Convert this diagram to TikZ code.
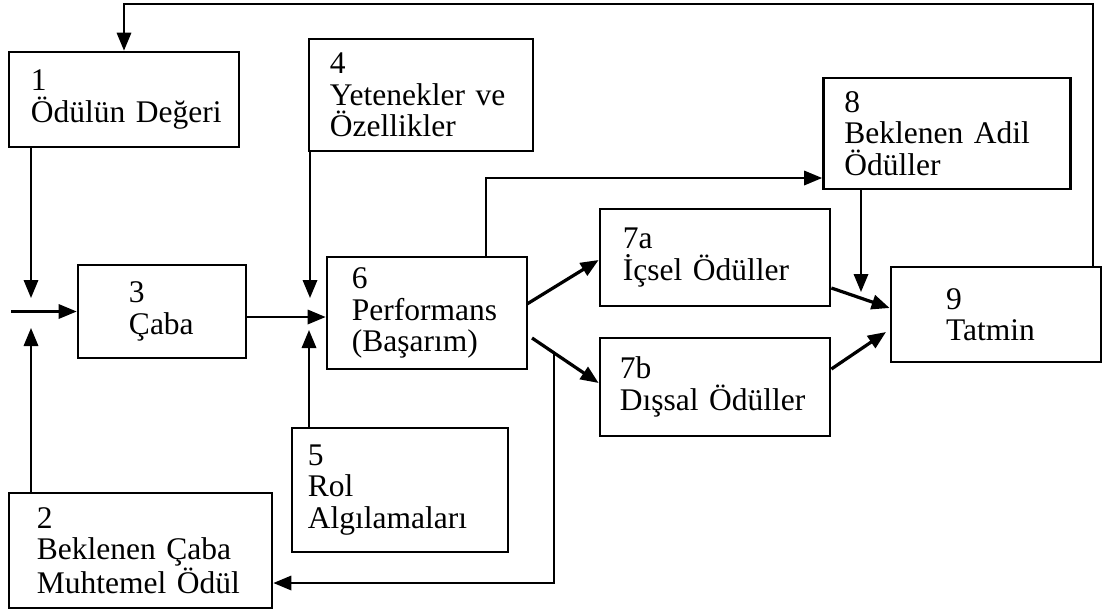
\documentclass[tikz,border=0pt]{standalone}
\usepackage{fontspec}
\setmainfont{Liberation Serif}
\usetikzlibrary{arrows.meta}

\newcommand\metin{\fontsize{22.4}{22.4}\selectfont}
\tikzset{
	kutu/.style={draw, line width=1.9pt, align=left, inner ysep=0pt, inner xsep=0.525cm, font=\metin},
	ok/.style={line width=1.5pt, -{Triangle[length=0.45cm,width=0.36cm]}},
	kalin/.style={ok, line width=2.3pt}
}

\begin{document}
\begin{tikzpicture}[x=0.025cm, y=-0.025cm]
	\useasboundingbox (0,0) rectangle (1103,612);

	% Kutular
	\node[kutu, inner xsep=0.55cm, text width=4.65cm, minimum height=2.375cm] (b1) at (124,99.5) {1\\\mbox{Ödülün Değeri}};
	\node[kutu, inner xsep=0.7cm, text width=5.175cm, minimum height=2.875cm] (b2) at (140.5,550.5) {2\\Beklenen Çaba\\Muhtemel Ödül};
	\node[kutu, inner xsep=1.275cm, text width=1.65cm, minimum height=2.325cm] (b3) at (162,311.5) {3\\Çaba};
	\node[kutu, text width=4.55cm, minimum height=2.8cm] (b4) at (421,95) {4\\Yetenekler ve\\Özellikler};
	\node[kutu, inner xsep=0.4cm, text width=4.6cm, minimum height=3.1cm] (b5) at (400,490) {5\\Rol\\Algılamaları};
	\node[kutu, inner xsep=0.625cm, text width=3.75cm, minimum height=2.8cm] (b6) at (427,313) {6\\Performans\\(Başarım)};
	\node[kutu, inner xsep=0.575cm, text width=4.6cm, minimum height=2.425cm] (b7a) at (715,257.5) {7a\\İçsel Ödüller};
	\node[kutu, inner xsep=0.5cm, text width=4.75cm, minimum height=2.45cm] (b7b) at (715,387) {7b\\Dışsal Ödüller};
	\node[kutu, text width=5.125cm, minimum height=2.775cm] (b8) at (947,133.5) {8\\Beklenen Adil\\Ödüller};
	\node[kutu, inner xsep=1.375cm, text width=2.5cm, minimum height=2.375cm] (b9) at (996,314.5) {9\\Tatmin};

	% Serbest uclar
	\coordinate (ust) at (1093,4);
	\coordinate (giris) at (11,311.5);
	\coordinate (d1) at (31,298);
	\coordinate (d2) at (31,328);
	\coordinate (d4) at (310,298);
	\coordinate (d5) at (309,330);
	\coordinate (d8) at (861,292);
	\coordinate (y36) at (280,317);
	\coordinate (k8) at (486,178);
	\coordinate (s7b) at (532,338);
	\coordinate (dal) at (554,352.6);
	\coordinate (alt) at (400,583);

	% Oklar
	\draw[ok] (b9.north -| ust) -- (ust) -| (b1.north);
	\draw[ok] (giris) -- (b3.west);
	\draw[ok] (b1.south -| d1) -- (d1);
	\draw[ok] (b2.north -| d2) -- (d2);
	\draw[ok] (b3.east |- y36) -- (b6.west |- y36);
	\draw[ok] (b4.south -| d4) -- (d4);
	\draw[ok] (b5.north -| d5) -- (d5);
	\draw[ok] (b6.north -| k8) |- (b8.west |- k8);
	\draw[kalin] (527,304) -- (b7a.west |- 0,260);
	\draw[kalin] (s7b) -- (b7b.west |- 0,383);
	\draw[ok] (dal) |- (b2.east |- alt);
	\draw[kalin] (b7a.east |- 0,288) -- (b9.west |- 0,308);
	\draw[kalin] (b7b.east |- 0,369) -- (886,332);
	\draw[ok] (b8.south -| d8) -- (d8);
\end{tikzpicture}
\end{document}
